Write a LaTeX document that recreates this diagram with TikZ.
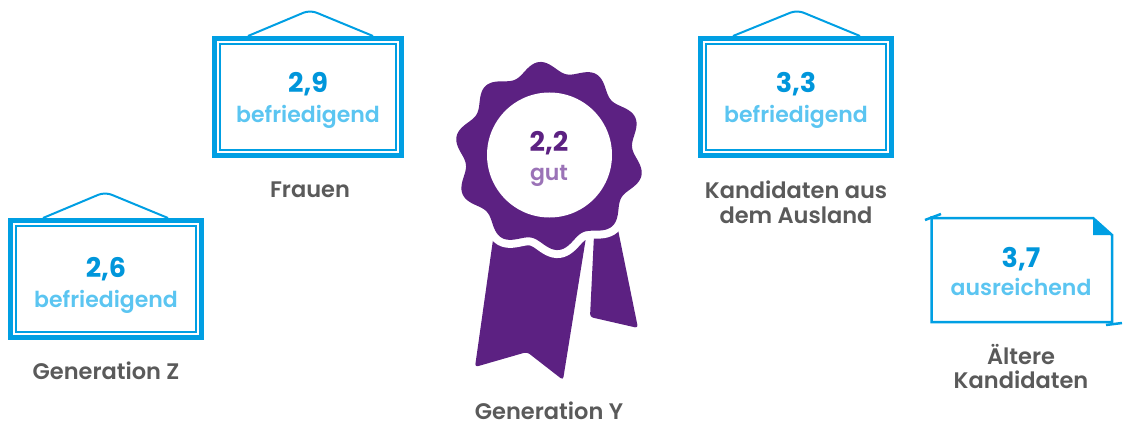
\documentclass[tikz,border=0pt]{standalone}
\usepackage{fontspec}
\setmainfont{Poppins}[BoldFont={Poppins SemiBold}]
\newfontfamily\numfont{Poppins}[UprightFont={Poppins Bold}]
\definecolor{fblue}{HTML}{009FE3}
\definecolor{nblue}{HTML}{0096DB}
\definecolor{lblue}{HTML}{5BC5F1}
\definecolor{rpurple}{HTML}{5C2182}
\definecolor{lpurple}{HTML}{9B73B7}
\definecolor{tgray}{HTML}{5A5A5A}
\tikzset{
  numtxt/.style={anchor=base, font=\numfont\fontsize{27}{30}\selectfont, text=nblue, inner sep=0},
  gradetxt/.style={anchor=base, font=\bfseries\fontsize{22}{25}\selectfont, text=lblue, inner sep=0},
  labeltxt/.style={anchor=base, font=\bfseries\fontsize{22.5}{26}\selectfont, text=tgray, inner sep=0},
  outerframe/.style={draw=fblue, line width=5},
  innerframe/.style={draw=fblue, line width=2},
  hanger/.style={draw=fblue, line width=2, rounded corners=7},
  paperline/.style={draw=fblue, line width=2.5},
}
\begin{document}
\begin{tikzpicture}[x=1pt,y=-1pt]
\useasboundingbox (0,0) rectangle (1125,425);
% ---------- frame 1: Generation Z ----------
\coordinate (f1a) at (43,218);
\coordinate (f1p) at (105,192);
\coordinate (f1b) at (168,218);
\draw[hanger] (f1a) -- (f1p) -- (f1b);
\draw[outerframe] (10.5,220.5) rectangle (201.5,337.5);
\draw[innerframe] (16,226) rectangle (196,332);
\node[numtxt] (n1) at (106,277) {2,6};
\node[gradetxt] (g1) at (106,307) {befriedigend};
\node[labeltxt] (l1) at (106,379) {Generation Z};
% ---------- frame 2: Frauen ----------
\coordinate (f2a) at (248,36);
\coordinate (f2p) at (310,10);
\coordinate (f2b) at (373,36);
\draw[hanger] (f2a) -- (f2p) -- (f2b);
\draw[outerframe] (214.5,38.5) rectangle (401.5,155.5);
\draw[innerframe] (220,44) rectangle (396,150);
\node[numtxt] (n2) at (308,93) {2,9};
\node[gradetxt] (g2) at (308,123) {befriedigend};
\node[labeltxt] (l2) at (310,197) {Frauen};
% ---------- frame 3: Kandidaten aus dem Ausland ----------
\coordinate (f3a) at (733,36);
\coordinate (f3p) at (797,10);
\coordinate (f3b) at (860,36);
\draw[hanger] (f3a) -- (f3p) -- (f3b);
\draw[outerframe] (700.5,38.5) rectangle (891.5,155.5);
\draw[innerframe] (706,44) rectangle (886,150);
\node[numtxt] (n3) at (796,93) {3,3};
\node[gradetxt] (g3) at (796,123) {befriedigend};
\node[labeltxt] (l3a) at (796,198) {Kandidaten aus};
\node[labeltxt] (l3b) at (796,223) {dem Ausland};
% ---------- paper: Aeltere Kandidaten ----------
\draw[paperline] (931.5,216) -- (931.5,322) -- (1112,322) -- (1112,235) -- (1093,218) -- (931.5,218);
\fill[fblue] (1093,218) -- (1093,235) -- (1112,235) -- cycle;
\draw[paperline] (925,220) -- (941,214);
\draw[paperline] (1106,325) -- (1122,323);
\node[numtxt] (n4) at (1021,267) {3,7};
\node[gradetxt] (g4) at (1021,295) {ausreichend};
\node[labeltxt] (l4a) at (1021,364) {Ältere};
\node[labeltxt] (l4b) at (1021,388) {Kandidaten};
% ---------- rosette: Generation Y ----------
\fill[rpurple, rounded corners=3] (496.5,215) -- (589.6,215) -- (563,380) -- (527,352) -- (475,367) -- cycle;
\fill[rpurple, rounded corners=3] (595,215) -- (615,215) -- (638,328) -- (590,317) -- cycle;
\draw[white, line width=16] plot[domain=0:360, samples=241] ({549+(89+5.5*cos(10*(\x-12)))*cos(\x)}, {156+(89+5.5*cos(10*(\x-12)))*sin(\x)}) -- cycle;
\fill[rpurple] plot[domain=0:360, samples=241] ({549+(89+5.5*cos(10*(\x-12)))*cos(\x)}, {156+(89+5.5*cos(10*(\x-12)))*sin(\x)}) -- cycle;
\fill[white] (549.5,155) circle[radius=62.5];
\node[numtxt, text=rpurple] (n5) at (549,152) {2,2};
\node[gradetxt, text=lpurple] (g5) at (549,180) {gut};
\node[labeltxt] (l5) at (549,419) {Generation Y};
\end{tikzpicture}
\end{document}
